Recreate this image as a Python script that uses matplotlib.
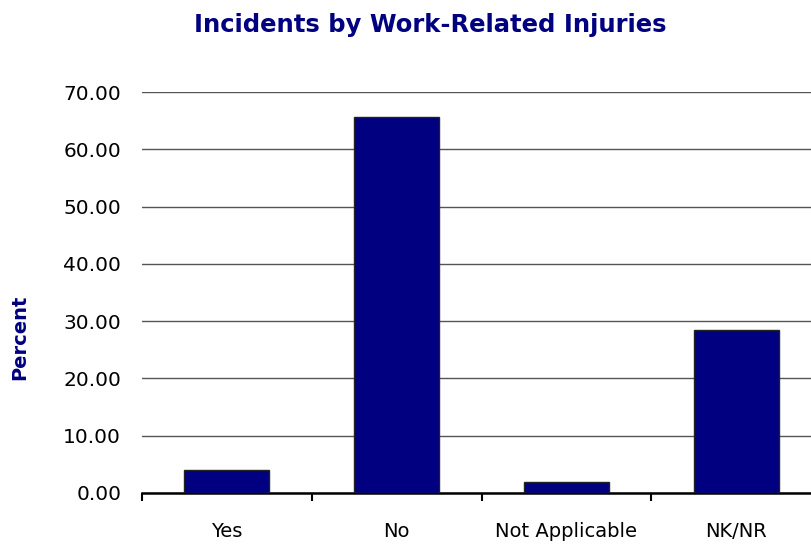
import matplotlib
matplotlib.use("Agg")
import matplotlib.pyplot as plt
from matplotlib.ticker import FixedLocator, FixedFormatter

categories = ["Yes", "No", "Not Applicable", "NK/NR"]
percent = [4.1, 65.6, 1.9, 28.5]
y_ticks = [0, 10, 20, 30, 40, 50, 60, 70]

NAVY = "#000080"

plt.rcParams["font.family"] = "DejaVu Sans"

fig = plt.figure(figsize=(8.11, 5.49), dpi=100)
# axes run a little past the right edge, as in the exported chart
ax = fig.add_axes([142 / 811, 1 - 493 / 549, 679 / 811, 401 / 549])

x = [i + 0.5 for i in range(len(categories))]
ax.bar(x, percent, width=0.5, color=NAVY, edgecolor="#222222", linewidth=1, zorder=3)

ax.set_xlim(0, len(categories))
ax.set_ylim(0, 70)

# gridlines
ax.set_yticks(y_ticks)
ax.set_yticklabels([f"{v:.2f}" for v in y_ticks], fontsize=14.5)
ax.yaxis.grid(True, color="#555555", linewidth=1)
ax.set_axisbelow(True)
ax.tick_params(axis="y", length=0, pad=15)

# category boundaries as ticks, names centered between them
ax.xaxis.set_major_locator(FixedLocator(range(len(categories) + 1)))
ax.xaxis.set_major_formatter(FixedFormatter([""] * (len(categories) + 1)))
ax.xaxis.set_minor_locator(FixedLocator(x))
ax.xaxis.set_minor_formatter(FixedFormatter(categories))
ax.tick_params(axis="x", which="major", direction="out", length=6, width=1.5, color="black")
ax.tick_params(axis="x", which="minor", length=0, pad=21, labelsize=14)

for side in ["top", "right", "left"]:
    ax.spines[side].set_visible(False)
ax.spines["bottom"].set_linewidth(1.8)

fig.text(430 / 811, 1 - 25 / 549, "Incidents by Work-Related Injuries",
         ha="center", va="center", fontsize=17.5, fontweight="bold", color=NAVY)
fig.text(20 / 811, 1 - 337 / 549, "Percent", rotation=90,
         ha="center", va="center", fontsize=14, fontweight="bold", color=NAVY)

fig.savefig("out.png", dpi=100)
